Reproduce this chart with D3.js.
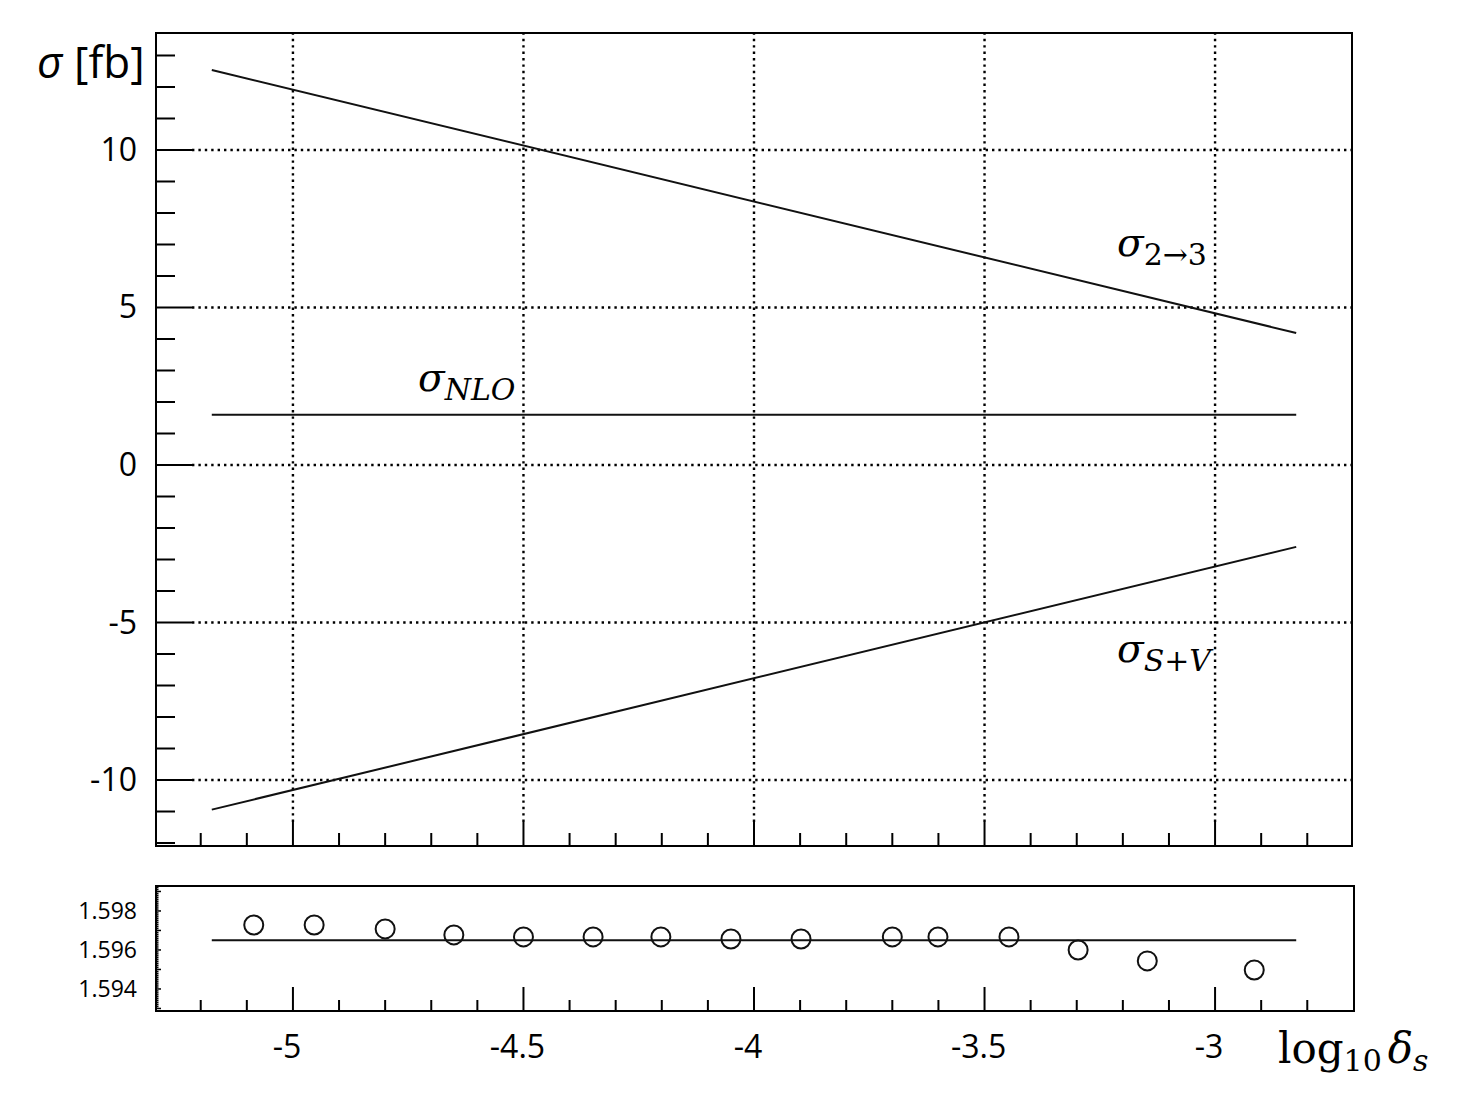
<!DOCTYPE html>
<html>
<head>
<meta charset="utf-8">
<script src="https://cdn.jsdelivr.net/npm/d3@7"></script>
<style>
  body { margin: 0; background: #fff; }
  svg { display: block; }
</style>
</head>
<body>
<svg id="chart" width="1464" height="1098"></svg>
<script>
// ---- data ----
const xMajorTicks = [-5, -4.5, -4, -3.5, -3];
const xTickLabels = ["-5", "-4.5", "-4", "-3.5", "-3"];
const yTopTicks = [-10, -5, 0, 5, 10];
const yTopLabels = ["-10", "-5", "0", "5", "10"];
const yBotTicks = [1.594, 1.596, 1.598];
const yBotLabels = ["1.594", "1.596", "1.598"];

const lineX = [-5.176, -2.824];
const sigma23 = [12.54, 4.19];
const sigmaSV = [-10.94, -2.60];
const sigmaNLO = [1.5965, 1.5965];

const ptsX = [-5.085, -4.954, -4.80, -4.651, -4.50, -4.349, -4.202, -4.05, -3.898, -3.70, -3.601, -3.447, -3.297, -3.147, -2.915];
const ptsY = [1.59728, 1.59728, 1.59708, 1.59677, 1.59667, 1.59667, 1.59667, 1.59656, 1.59656, 1.59667, 1.59667, 1.59667, 1.59600, 1.59544, 1.59497];

// ---- layout ----
const svg = d3.select("#chart");
const L = 156, R = 1352, R2 = 1354;
const topT = 33, topB = 846;
const botT = 886, botB = 1011;

const x = d3.scaleLinear().domain([-5.297, -2.703]).range([L, R]);
const yT = d3.scaleLinear().domain([-12.095, 13.714]).range([topB, topT]);
const yB = d3.scaleLinear().domain([1.59287, 1.59928]).range([botB, botT]);

const sans = "'Open Sans', 'DejaVu Sans', sans-serif";
const serif = "'DejaVu Serif', serif";

// minor ticks
const xMinor = d3.range(-52, -27).map(d => d / 10).filter(d => !xMajorTicks.some(m => Math.abs(m - d) < 1e-9));
const yMinor = d3.range(-12, 14).filter(d => !yTopTicks.includes(d));

const g = svg.append("g");

// ---- top panel gridlines ----
const grid = g.append("g").attr("stroke", "#000").attr("stroke-width", 2.4).attr("stroke-dasharray", "2.4,4");
grid.selectAll("line.vg").data(xMajorTicks).join("line")
  .attr("x1", d => x(d)).attr("x2", d => x(d))
  .attr("y1", topB - 24).attr("y2", topT);
grid.selectAll("line.hg").data(yTopTicks).join("line")
  .attr("x1", L + 36).attr("x2", R)
  .attr("y1", d => yT(d)).attr("y2", d => yT(d));

// ---- top panel ticks ----
const ticks = g.append("g").attr("stroke", "#000").attr("stroke-width", 2);
ticks.selectAll("line.ym").data(yTopTicks).join("line")
  .attr("x1", L).attr("x2", L + 36).attr("y1", d => yT(d)).attr("y2", d => yT(d));
ticks.selectAll("line.yn").data(yMinor).join("line")
  .attr("x1", L).attr("x2", L + 19).attr("y1", d => yT(d)).attr("y2", d => yT(d));
ticks.selectAll("line.xm").data(xMajorTicks).join("line")
  .attr("x1", d => x(d)).attr("x2", d => x(d)).attr("y1", topB).attr("y2", topB - 24);
ticks.selectAll("line.xn").data(xMinor).join("line")
  .attr("x1", d => x(d)).attr("x2", d => x(d)).attr("y1", topB).attr("y2", topB - 13);

// ---- bottom panel ticks ----
ticks.selectAll("line.bxm").data(xMajorTicks).join("line")
  .attr("x1", d => x(d)).attr("x2", d => x(d)).attr("y1", botB).attr("y2", botB - 24);
ticks.selectAll("line.bxn").data(xMinor).join("line")
  .attr("x1", d => x(d)).attr("x2", d => x(d)).attr("y1", botB).attr("y2", botB - 11);
const yBMinor = d3.range(15930, 15993, 1).map(d => d / 10000).filter(d => yB(d) > botT + 1 && yB(d) < botB - 1);
ticks.selectAll("line.byn").data(yBMinor).join("line")
  .attr("x1", L).attr("x2", d => (Math.abs(d * 1000 - Math.round(d * 1000)) < 1e-6) ? L + 5 : L + 2.5)
  .attr("y1", d => yB(d)).attr("y2", d => yB(d)).attr("stroke-width", 1.5);

// ---- frames ----
g.append("rect").attr("x", L).attr("y", topT).attr("width", R - L).attr("height", topB - topT)
  .attr("fill", "none").attr("stroke", "#000").attr("stroke-width", 2);
g.append("rect").attr("x", L).attr("y", botT).attr("width", R2 - L).attr("height", botB - botT)
  .attr("fill", "none").attr("stroke", "#000").attr("stroke-width", 2);

// ---- lines ----
const lineTop = ys => d3.line().x((d, i) => x(lineX[i])).y(d => yT(d))(ys);
g.append("path").attr("d", lineTop(sigma23)).attr("fill", "none").attr("stroke", "#111").attr("stroke-width", 2);
g.append("path").attr("d", lineTop(sigmaSV)).attr("fill", "none").attr("stroke", "#111").attr("stroke-width", 2);
g.append("path").attr("d", lineTop(sigmaNLO)).attr("fill", "none").attr("stroke", "#111").attr("stroke-width", 2);

// bottom: NLO line + points
g.append("path").attr("d", d3.line().x((d, i) => x(lineX[i])).y(d => yB(d))(sigmaNLO))
  .attr("fill", "none").attr("stroke", "#111").attr("stroke-width", 2);
g.selectAll("circle.pt").data(ptsX).join("circle")
  .attr("cx", d => x(d)).attr("cy", (d, i) => yB(ptsY[i])).attr("r", 9.5)
  .attr("fill", "none").attr("stroke", "#111").attr("stroke-width", 2);

// ---- tick labels ----
g.selectAll("text.yl").data(yTopTicks).join("text")
  .attr("x", 137).attr("y", d => yT(d) + 11).attr("text-anchor", "end")
  .attr("font-family", sans).attr("font-size", 32).text((d, i) => yTopLabels[i]);
g.selectAll("text.ybl").data(yBotTicks).join("text")
  .attr("x", 137).attr("y", d => yB(d) + 8).attr("text-anchor", "end")
  .attr("font-family", sans).attr("font-size", 23).text((d, i) => yBotLabels[i]);
g.selectAll("text.xl").data(xMajorTicks).join("text")
  .attr("x", d => x(d) - 6).attr("y", 1058).attr("text-anchor", "middle")
  .attr("font-family", sans).attr("font-size", 32).text((d, i) => xTickLabels[i]);

// ---- axis titles ----
const yt = g.append("text").attr("x", 37).attr("y", 78).attr("font-family", sans).attr("font-size", 44);
yt.append("tspan").attr("font-style", "italic").text("σ");
yt.append("tspan").text(" [fb]");

const xt = g.append("text").attr("x", 1278).attr("y", 1063).attr("font-family", serif).attr("font-size", 42);
xt.append("tspan").text("log");
xt.append("tspan").attr("font-size", 30).attr("dy", 8).text("10");
xt.append("tspan").attr("font-style", "italic").attr("dy", -8).attr("dx", 6).text("δ");
xt.append("tspan").attr("font-style", "italic").attr("font-size", 30).attr("dy", 8).text("s");

// ---- curve labels ----
function sigmaLabel(xp, yp, parts) {
  const t = g.append("text").attr("x", xp).attr("y", yp).attr("font-family", serif).attr("font-size", 39);
  t.append("tspan").attr("font-style", "italic").text("σ");
  let first = true;
  parts.forEach(p => {
    const s = t.append("tspan").attr("font-size", 30).attr("font-style", p.it ? "italic" : "normal").text(p.t);
    if (first) { s.attr("dy", 9); first = false; }
  });
}
sigmaLabel(1117, 256, [{t: "2→3", it: false}]);
sigmaLabel(418, 391, [{t: "NLO", it: true}]);
sigmaLabel(1117, 662, [{t: "S", it: true}, {t: "+", it: false}, {t: "V", it: true}]);
</script>
</body>
</html>
